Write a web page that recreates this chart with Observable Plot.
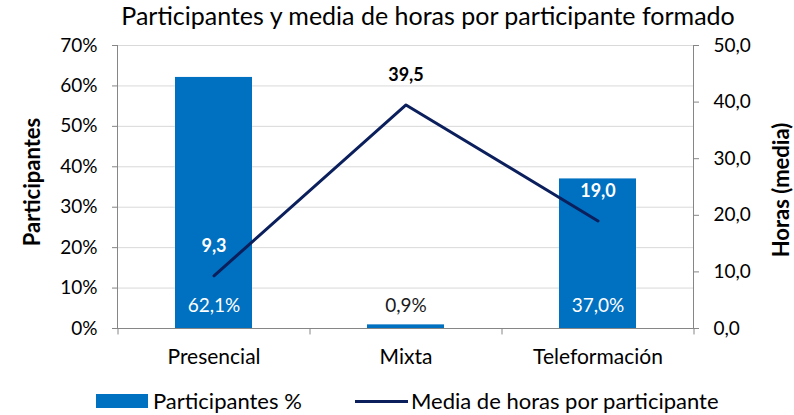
<!DOCTYPE html>
<html><head><meta charset="utf-8">
<script src="https://cdn.jsdelivr.net/npm/d3@7"></script>
<script src="https://cdn.jsdelivr.net/npm/@observablehq/plot@0.6"></script>
<style>
body{margin:0;background:#fff;width:794px;height:415px;overflow:hidden;position:relative;font-family:Lato,"Open Sans",sans-serif;color:#000}
#title{position:absolute;top:3px;left:0;width:794px;text-align:center;font-size:25px;line-height:1;padding-left:62px;box-sizing:border-box;white-space:nowrap}
#chart{position:absolute;top:30px;left:0}
#legend{position:absolute;top:390px;left:0;width:794px;font-size:22px;line-height:1}
.lg{position:absolute;display:flex;align-items:center;white-space:nowrap}
.ylab{position:absolute;font-size:22px;font-weight:bold;line-height:1;white-space:nowrap;transform:translate(-50%,-50%) rotate(-90deg)}
</style></head><body>
<div id="title">Participantes y media de horas por participante formado</div>
<div id="chart"></div>
<div class="ylab" style="left:32px;top:182px">Participantes</div>
<div class="ylab" style="left:781px;top:190px">Horas (media)</div>
<div id="legend">
 <div class="lg" style="left:96px"><span style="display:inline-block;width:52px;height:14px;background:#0070C0;margin-right:5px"></span>Participantes %</div>
 <div class="lg" style="left:355px"><span style="display:inline-block;width:53px;height:3px;background:#0B1F5C;margin-right:3px"></span>Media de horas por participante</div>
</div>
<script>
const categories = ["Presencial", "Mixta", "Teleformación"];
const participantes = [0.621, 0.009, 0.370];
const horas = [9.3, 39.5, 19.0];
const leftTicks = [0, 0.1, 0.2, 0.3, 0.4, 0.5, 0.6, 0.7];
const rightTicks = [0, 10, 20, 30, 40, 50];

const pctMax = 0.7, hMax = 50;
const toPct = h => h / hMax * pctMax;
const rows = categories.map((c, i) => ({cat: c, pct: participantes[i], h: horas[i], hy: toPct(horas[i])}));
const fmt = (v, d) => v.toFixed(d).replace(".", ",");

const plot = Plot.plot({
  width: 794, height: 345,
  marginLeft: 117, marginRight: 101, marginTop: 15, marginBottom: 47,
  style: {fontFamily: "Lato, 'Open Sans', sans-serif", fontSize: "19px", color: "#000", background: "#fff", overflow: "visible"},
  x: {domain: categories, paddingInner: 0.6, paddingOuter: 0.3},
  y: {domain: [0, pctMax]},
  marks: [
    Plot.gridY(leftTicks, {stroke: "#d9d9d9", strokeOpacity: 1}),
    Plot.barY(rows, {x: "cat", y: "pct", fill: "#0070C0"}),
    Plot.frame({anchor: "left", stroke: "#868686"}),
    Plot.frame({anchor: "right", stroke: "#868686"}),
    Plot.frame({anchor: "bottom", stroke: "#868686"}),
    Plot.ruleX(categories, {x: d => d, dx: -96, y1: 0, y2: -0.016, stroke: "#868686"}),
    Plot.ruleX(categories.slice(-1), {x: d => d, dx: 96, y1: 0, y2: -0.016, stroke: "#868686"}),
    Plot.axisY(leftTicks, {anchor: "left", tickSize: 5, tickPadding: 15, stroke: "#868686", fill: "#000", tickFormat: d => Math.round(d * 100) + "%", label: null}),
    Plot.axisY(rightTicks.map(toPct), {anchor: "right", tickSize: 5, tickPadding: 15, stroke: "#868686", fill: "#000", tickFormat: d => fmt(d / pctMax * hMax, 1), label: null}),
    Plot.axisX({tickSize: 0, tickPadding: 21, label: null, fill: "#000", fontSize: 21}),
    Plot.line(rows, {x: "cat", y: "hy", stroke: "#0B1F5C", strokeWidth: 3}),
    Plot.text(rows, {x: "cat", y: 0, dy: -23, text: d => fmt(d.pct * 100, 1) + "%", fill: d => d.pct > 0.1 ? "#fff" : "#1a1a1a", fontSize: 19}),
    Plot.text(rows, {x: "cat", y: "hy", dy: -30, text: d => fmt(d.h, 1), fill: d => d.pct > 0.1 ? "#fff" : "#000", fontWeight: "bold", fontSize: 18})
  ]
});
document.getElementById("chart").appendChild(plot);
</script>
</body></html>
